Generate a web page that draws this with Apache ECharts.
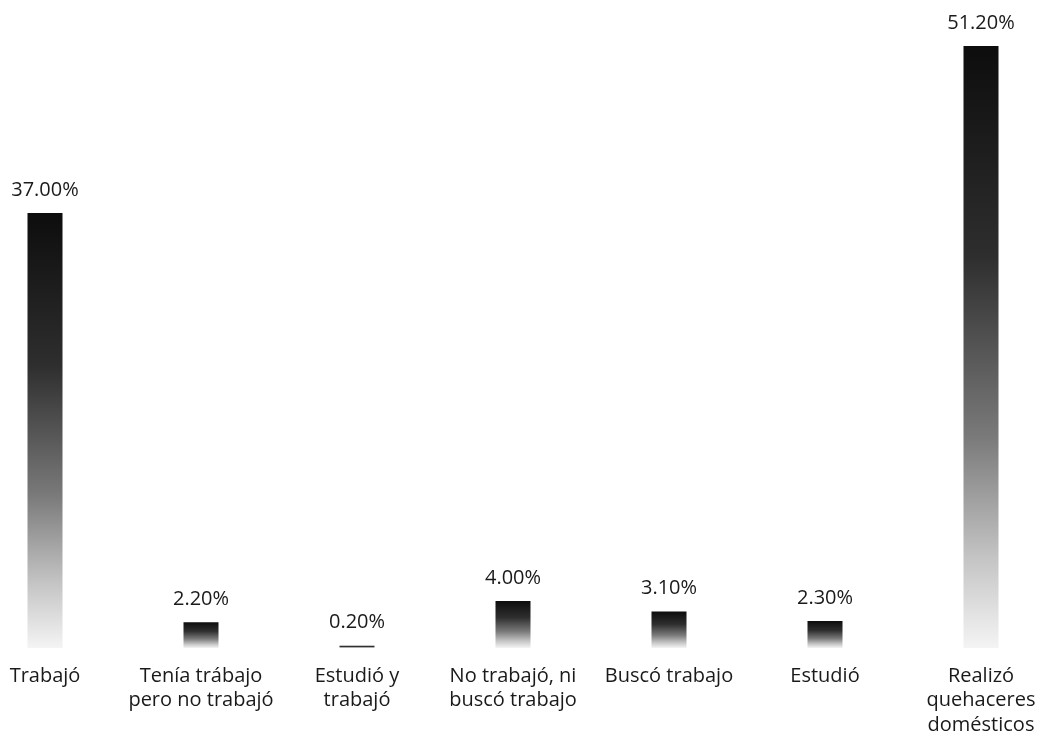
<!DOCTYPE html>
<html>
<head>
<meta charset="utf-8">
<script src="https://cdn.jsdelivr.net/npm/echarts@6/dist/echarts.min.js"></script>
<style>
  html, body { margin: 0; padding: 0; background: #fff; overflow: hidden; }
  #wrap { position: relative; width: 1043px; height: 739px; overflow: hidden; }
  /* the category slots run past both edges of the page */
  #chart { position: absolute; left: -33px; top: 0; width: 1092px; height: 739px; }
</style>
</head>
<body>
<div id="wrap"><div id="chart"></div></div>
<script>
// categorías (eje x)
const categories = [
  'Trabajó',
  'Tenía trábajo\npero no trabajó',
  'Estudió y\ntrabajó',
  'No trabajó, ni\nbuscó trabajo',
  'Buscó trabajo',
  'Estudió',
  'Realizó\nquehaceres\ndomésticos'
]
// porcentajes
const values = [37.0, 2.2, 0.2, 4.0, 3.1, 2.3, 51.2]

const chart = echarts.init(document.getElementById('chart'), null, { renderer: 'canvas' })

// degradado oscuro arriba -> claro abajo
const barColor = new echarts.graphic.LinearGradient(0, 0, 0, 1, [
  { offset: 0, color: '#0d0d0d' },
  { offset: 0.35, color: '#2e2e2e' },
  { offset: 0.65, color: '#7a7a7a' },
  { offset: 0.85, color: '#c4c4c4' },
  { offset: 1, color: '#f4f4f4' }
])

chart.setOption({
  animation: false,
  textStyle: {
    fontFamily: '"Open Sans", "Noto Sans", sans-serif'
  },
  grid: {
    left: 0,
    right: 0,
    top: 46,
    bottom: 91
  },
  xAxis: {
    type: 'category',
    data: categories,
    axisLine: { show: false },
    axisTick: { show: false },
    axisLabel: {
      interval: 0,
      margin: 16,
      fontSize: 20,
      lineHeight: 24.5,
      color: '#1a1a1a'
    }
  },
  yAxis: {
    type: 'value',
    min: 0,
    max: 51.2,
    show: false,
    splitLine: { show: false }
  },
  series: [
    {
      type: 'bar',
      data: values,
      barWidth: 35,
      itemStyle: { color: barColor },
      label: {
        show: true,
        position: 'top',
        distance: 13,
        fontSize: 20,
        color: '#1a1a1a',
        formatter: p => p.value.toFixed(2) + '%'
      }
    }
  ]
})
</script>
</body>
</html>
